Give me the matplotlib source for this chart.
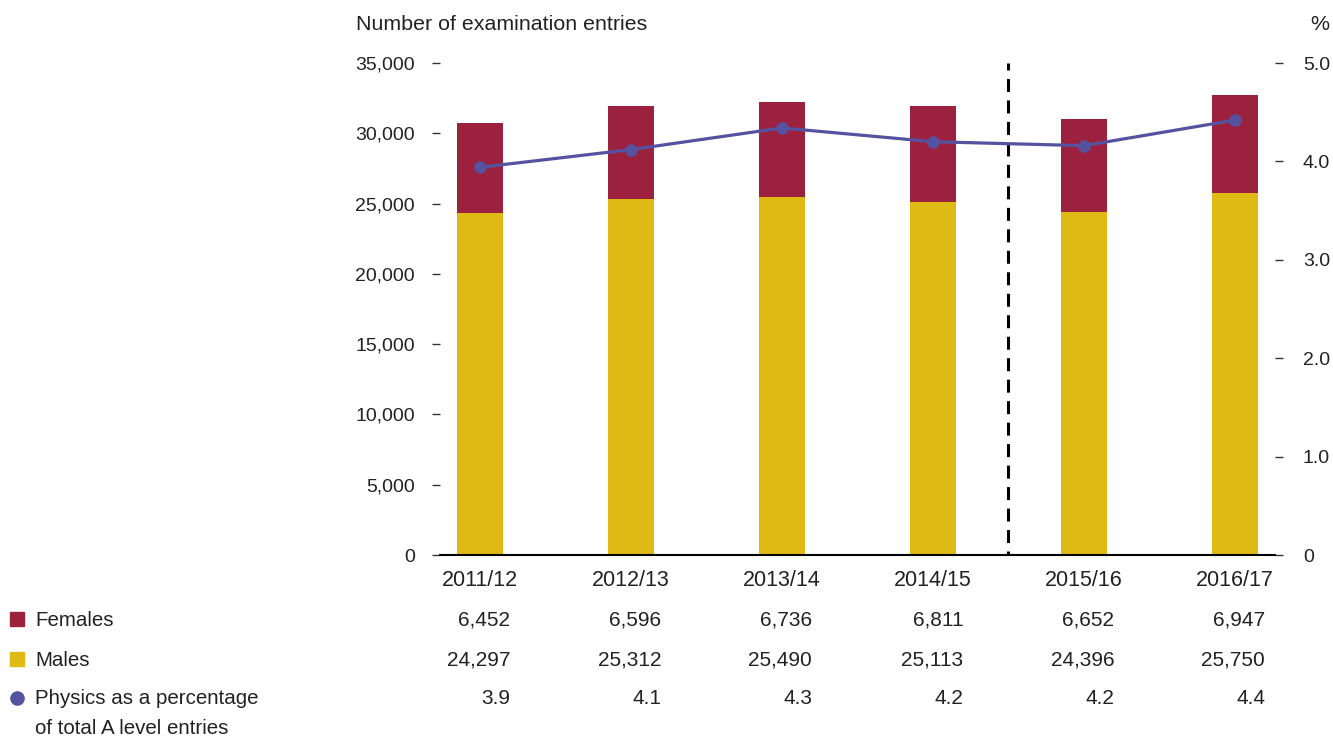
import matplotlib.pyplot as plt
from matplotlib.lines import Line2D
from matplotlib.transforms import blended_transform_factory
from matplotlib.ticker import FuncFormatter

plt.rcParams['font.family'] = ['Liberation Sans', 'DejaVu Sans']

years = ['2011/12', '2012/13', '2013/14', '2014/15', '2015/16', '2016/17']
females = [6452, 6596, 6736, 6811, 6652, 6947]
males = [24297, 25312, 25490, 25113, 24396, 25750]
pct = [3.94, 4.12, 4.34, 4.20, 4.16, 4.42]
pct_labels = ['3.9', '4.1', '4.3', '4.2', '4.2', '4.4']

c_fem = '#9c213f'
c_male = '#dfba15'
c_line = '#5552a0'
txt = '#222222'

fig = plt.figure(figsize=(13.33, 7.37), dpi=100)
ax = fig.add_axes([440 / 1333, 1 - 555 / 737, (1275 - 440) / 1333, (555 - 63) / 737])
x = list(range(len(years)))

ax.bar(x, males, width=0.3, color=c_male, zorder=2)
ax.bar(x, females, width=0.3, bottom=males, color=c_fem, zorder=2)
# dashed divider, drawn top-down so the dash pattern starts at the top
ax.plot([3.5, 3.5], [35000, 0], color='black', lw=2.2,
        linestyle=(1.97, (4.25, 2.78)), zorder=3, clip_on=False)

ax.set_xlim(-0.265, 5.265)
ax.set_ylim(0, 35000)
ax.set_yticks(range(0, 35001, 5000))
ax.yaxis.set_major_formatter(FuncFormatter(lambda v, p: f'{int(v):,}'))
ax.set_xticks(x)
ax.set_xticklabels(years)
for s in ['left', 'right', 'top']:
    ax.spines[s].set_visible(False)
ax.spines['bottom'].set_linewidth(1.5)
ax.tick_params(axis='y', length=6, width=1, color='#333333', pad=12,
               labelsize=14, labelcolor=txt)
ax.tick_params(axis='x', length=0, pad=11, labelsize=15.5, labelcolor=txt)

ax2 = ax.twinx()
ax2.plot(x, pct, color=c_line, lw=2.3, marker='o', markersize=8, zorder=5)
ax2.set_ylim(0, 5)
ax2.set_yticks([0, 1, 2, 3, 4, 5])
ax2.yaxis.set_major_formatter(FuncFormatter(lambda v, p: '0' if v == 0 else f'{v:.1f}'))
for s in ['left', 'right', 'top', 'bottom']:
    ax2.spines[s].set_visible(False)
ax2.tick_params(axis='y', length=6, width=1, color='#333333', pad=14,
                labelsize=14, labelcolor=txt)

fig.text(356 / 1333, 1 - 25 / 737, 'Number of examination entries', fontsize=15.4,
         color=txt, ha='left', va='center')
fig.text(1329 / 1333, 1 - 25 / 737, '%', fontsize=15.4, color=txt, ha='right', va='center')

# table below the chart
tr = blended_transform_factory(ax.transData, fig.transFigure)
rows = [
    (620, [f'{v:,}' for v in females]),
    (660, [f'{v:,}' for v in males]),
    (699, pct_labels),
]
for ypx, vals in rows:
    for xi, v in zip(x, vals):
        fig.text(xi + 0.2, 1 - ypx / 737, v, transform=tr, fontsize=15,
                 color=txt, ha='right', va='center')

legend_items = [
    (619, 's', c_fem, 'Females'),
    (659, 's', c_male, 'Males'),
    (698, 'o', c_line, 'Physics as a percentage'),
]
for ypx, mk, col, lab in legend_items:
    fig.add_artist(Line2D([17 / 1333], [1 - ypx / 737], marker=mk, color=col,
                          markersize=10 if mk == 's' else 9.5, linestyle='none',
                          transform=fig.transFigure))
    fig.text(35 / 1333, 1 - (ypx + 1) / 737, lab, fontsize=14.8, color=txt, va='center')
fig.text(35 / 1333, 1 - 729 / 737, 'of total A level entries', fontsize=14.8,
         color=txt, va='center')

fig.savefig('out.png', dpi=100)
